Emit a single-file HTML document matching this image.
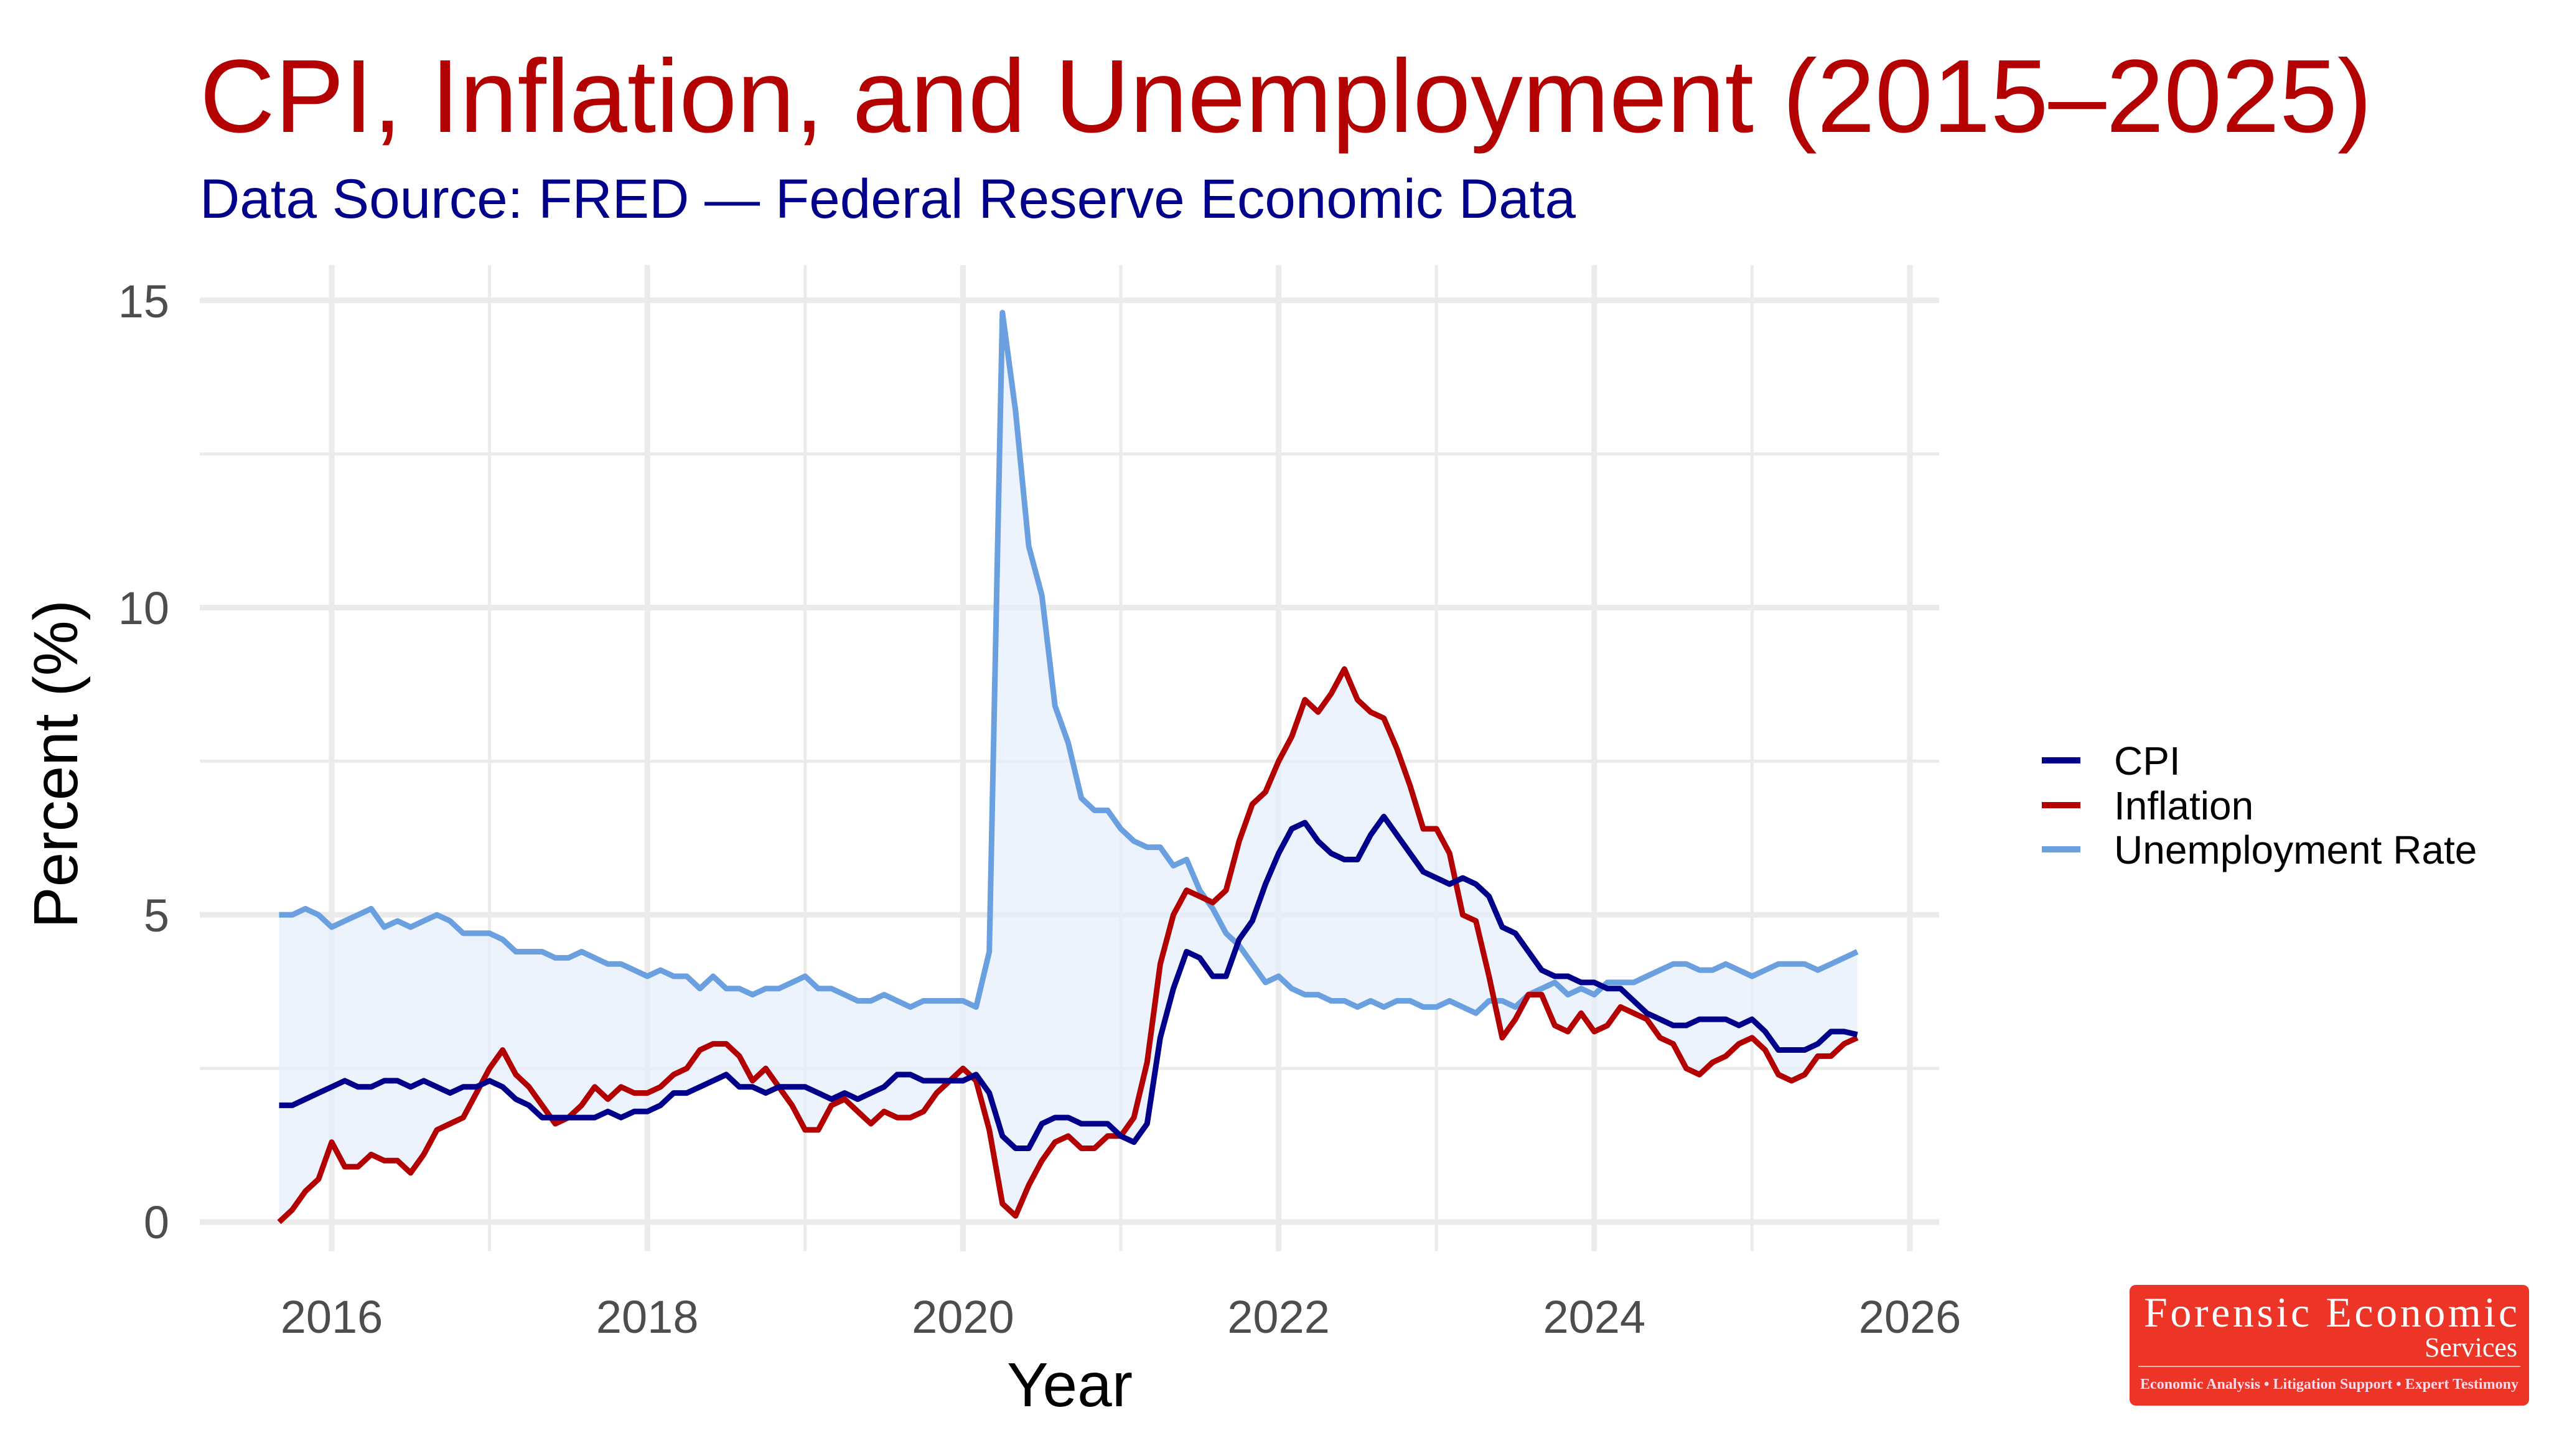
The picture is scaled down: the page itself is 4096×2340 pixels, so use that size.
<!DOCTYPE html>
<html><head><meta charset="utf-8"><style>
html,body{margin:0;padding:0;background:#fff;}
svg{display:block;}
</style></head><body>
<svg id="s" width="4096" height="2340" viewBox="0 0 4096 2340" xmlns="http://www.w3.org/2000/svg" font-family="Liberation Sans, sans-serif">
<rect width="4096" height="2340" fill="#fff"/>
<text x="321" y="212" font-size="167" fill="#b30000">CPI, Inflation, and Unemployment (2015–2025)</text>
<text x="321" y="350" font-size="89" fill="#00008b">Data Source: FRED — Federal Reserve Economic Data</text>
<g id="grid"></g>
<polygon id="band" points="" fill="#e4eefc" fill-opacity="0.7" stroke="none"/>
<g id="plot"></g>
<g font-size="74" fill="#4d4d4d" text-anchor="end">
<text x="272" y="510">15</text><text x="272" y="1003">10</text><text x="272" y="1497">5</text><text x="272" y="1990">0</text>
</g>
<g id="xl" font-size="74" fill="#4d4d4d" text-anchor="middle"></g>
<text x="1719" y="2260" font-size="100" text-anchor="middle" fill="#000">Year</text>
<text transform="translate(124,1228) rotate(-90)" font-size="100" text-anchor="middle" fill="#000">Percent (%)</text>
<g stroke-width="10">
<line x1="3281" y1="1222" x2="3343" y2="1222" stroke="#00008b"/>
<line x1="3281" y1="1294" x2="3343" y2="1294" stroke="#b30000"/>
<line x1="3281" y1="1365" x2="3343" y2="1365" stroke="#6a9fe0"/>
</g>
<g font-size="64" fill="#000">
<text x="3397" y="1245">CPI</text><text x="3397" y="1317">Inflation</text><text x="3397" y="1388">Unemployment Rate</text>
</g>
<rect x="3422" y="2065" width="642" height="194" rx="10" fill="#ec3527"/>
<text x="4045" y="2132" font-family="Liberation Serif, serif" font-size="68" fill="#fff" text-anchor="end" textLength="600">Forensic Economic</text>
<text x="4045" y="2180" font-family="Liberation Serif, serif" font-size="44" fill="#fff" text-anchor="end">Services</text>
<line x1="3436" y1="2196" x2="4050" y2="2196" stroke="#f6b5ae" stroke-width="2"/>
<text x="3743" y="2232" font-family="Liberation Serif, serif" font-size="24" font-weight="bold" fill="#fde" text-anchor="middle" textLength="608">Economic Analysis • Litigation Support • Expert Testimony</text>
</svg>
<script>
var U=[5.0,5.0,5.1,5.0,
4.8,4.9,5.0,5.1,4.8,4.9,4.8,4.9,5.0,4.9,4.7,4.7,
4.7,4.6,4.4,4.4,4.4,4.3,4.3,4.4,4.3,4.2,4.2,4.1,
4.0,4.1,4.0,4.0,3.8,4.0,3.8,3.8,3.7,3.8,3.8,3.9,
4.0,3.8,3.8,3.7,3.6,3.6,3.7,3.6,3.5,3.6,3.6,3.6,
3.6,3.5,4.4,14.8,13.2,11.0,10.2,8.4,7.8,6.9,6.7,6.7,
6.4,6.2,6.1,6.1,5.8,5.9,5.4,5.1,4.7,4.5,4.2,3.9,
4.0,3.8,3.7,3.7,3.6,3.6,3.5,3.6,3.5,3.6,3.6,3.5,
3.5,3.6,3.5,3.4,3.6,3.6,3.5,3.7,3.8,3.9,3.7,3.8,
3.7,3.9,3.9,3.9,4.0,4.1,4.2,4.2,4.1,4.1,4.2,4.1,
4.0,4.1,4.2,4.2,4.2,4.1,4.2,4.3,4.4];
var R=[0.0,0.2,0.5,0.7,
1.3,0.9,0.9,1.1,1.0,1.0,0.8,1.1,1.5,1.6,1.7,2.1,
2.5,2.8,2.4,2.2,1.9,1.6,1.7,1.9,2.2,2.0,2.2,2.1,
2.1,2.2,2.4,2.5,2.8,2.9,2.9,2.7,2.3,2.5,2.2,1.9,
1.5,1.5,1.9,2.0,1.8,1.6,1.8,1.7,1.7,1.8,2.1,2.3,
2.5,2.3,1.5,0.3,0.1,0.6,1.0,1.3,1.4,1.2,1.2,1.4,
1.4,1.7,2.6,4.2,5.0,5.4,5.3,5.2,5.4,6.2,6.8,7.0,
7.5,7.9,8.5,8.3,8.6,9.0,8.5,8.3,8.2,7.7,7.1,6.4,
6.4,6.0,5.0,4.9,4.0,3.0,3.3,3.7,3.7,3.2,3.1,3.4,
3.1,3.2,3.5,3.4,3.3,3.0,2.9,2.5,2.4,2.6,2.7,2.9,
3.0,2.8,2.4,2.3,2.4,2.7,2.7,2.9,3.0];
var C=[1.9,1.9,2.0,2.1,
2.2,2.3,2.2,2.2,2.3,2.3,2.2,2.3,2.2,2.1,2.2,2.2,
2.3,2.2,2.0,1.9,1.7,1.7,1.7,1.7,1.7,1.8,1.7,1.8,
1.8,1.9,2.1,2.1,2.2,2.3,2.4,2.2,2.2,2.1,2.2,2.2,
2.2,2.1,2.0,2.1,2.0,2.1,2.2,2.4,2.4,2.3,2.3,2.3,
2.3,2.4,2.1,1.4,1.2,1.2,1.6,1.7,1.7,1.6,1.6,1.6,
1.4,1.3,1.6,3.0,3.8,4.4,4.3,4.0,4.0,4.6,4.9,5.5,
6.0,6.4,6.5,6.2,6.0,5.9,5.9,6.3,6.6,6.3,6.0,5.7,
5.6,5.5,5.6,5.5,5.3,4.8,4.7,4.4,4.1,4.0,4.0,3.9,
3.9,3.8,3.8,3.6,3.4,3.3,3.2,3.2,3.3,3.3,3.3,3.2,
3.3,3.1,2.8,2.8,2.8,2.9,3.1,3.1,3.05];
function X(i){return 533+253.6*((2015+8/12+i/12)-2016);}
function Xy(y){return 533+253.6*(y-2016);}
function Y(v){return 1964-98.75*v;}
var g='';
for(var v=2.5;v<15;v+=5)g+='<line x1="321" x2="3116" y1="'+Y(v)+'" y2="'+Y(v)+'" stroke="#ebebeb" stroke-width="5"/>';
for(var y=2017;y<=2025;y+=2)g+='<line y1="426" y2="2011" x1="'+Xy(y)+'" x2="'+Xy(y)+'" stroke="#ebebeb" stroke-width="5"/>';
for(var v=0;v<=15;v+=5)g+='<line x1="321" x2="3116" y1="'+Y(v)+'" y2="'+Y(v)+'" stroke="#ebebeb" stroke-width="9"/>';
var xl='';
for(var y=2016;y<=2026;y+=2){g+='<line y1="426" y2="2011" x1="'+Xy(y)+'" x2="'+Xy(y)+'" stroke="#ebebeb" stroke-width="9"/>';xl+='<text x="'+Xy(y)+'" y="2142">'+y+'</text>';}
document.getElementById('grid').innerHTML=g;
document.getElementById('xl').innerHTML=xl;
var n=U.length,pts=[];
for(var i=0;i<n;i++){pts.push(X(i).toFixed(1)+','+Y(Math.max(U[i],R[i],C[i])).toFixed(1));}
for(var i=n-1;i>=0;i--){pts.push(X(i).toFixed(1)+','+Y(Math.min(U[i],R[i],C[i])).toFixed(1));}
document.getElementById('band').setAttribute('points',pts.join(' '));
function P(a){var s='';for(var i=0;i<a.length;i++)s+=(i?'L':'M')+X(i).toFixed(1)+','+Y(a[i]).toFixed(1);return s;}
var p='';
p+='<path d="'+P(U)+'" fill="none" stroke="#6a9fe0" stroke-width="9" stroke-linejoin="round"/>';
p+='<path d="'+P(R)+'" fill="none" stroke="#b30000" stroke-width="9" stroke-linejoin="round"/>';
p+='<path d="'+P(C)+'" fill="none" stroke="#00008b" stroke-width="9" stroke-linejoin="round"/>';
document.getElementById('plot').innerHTML=p;
</script>
</body></html>
